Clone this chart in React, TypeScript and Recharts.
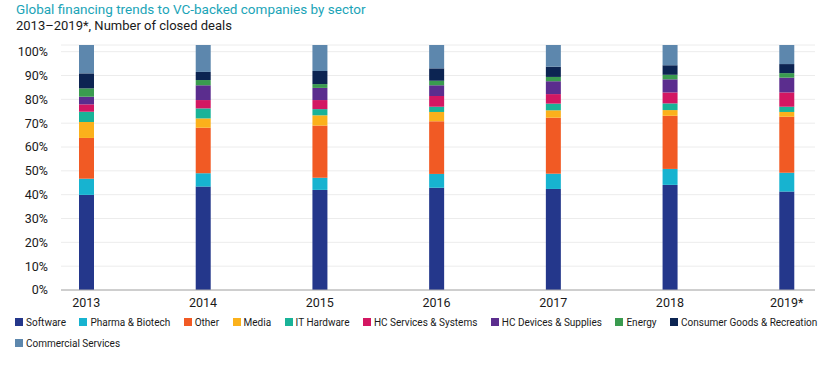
import React from "react";
import { BarChart, Bar, XAxis, YAxis, CartesianGrid } from "recharts";

// share of closed deals per sector, in %
const years = ["2013", "2014", "2015", "2016", "2017", "2018", "2019*"];
const software = [39.9, 43.4, 42.0, 42.9, 42.4, 44.1, 41.3];
const pharma = [6.8, 5.6, 5.1, 5.8, 6.4, 6.7, 7.9];
const other = [17.1, 19.1, 21.9, 22.1, 23.5, 22.3, 23.5];
const media = [6.7, 3.9, 4.3, 3.9, 3.1, 2.4, 2.0];
const itHardware = [4.3, 4.2, 2.6, 2.2, 2.8, 2.8, 2.2];
const hcServices = [3.1, 3.5, 3.8, 4.5, 4.0, 4.6, 6.0];
const hcDevices = [3.2, 6.2, 5.1, 4.5, 5.4, 5.5, 6.2];
const energy = [3.5, 2.2, 1.6, 1.9, 1.8, 1.9, 1.9];
const consumer = [6.3, 3.4, 5.5, 5.2, 4.3, 4.0, 3.8];
const commercial = [11.9, 11.3, 10.9, 9.8, 9.1, 8.5, 8.0];
const yTicks = [0, 10, 20, 30, 40, 50, 60, 70, 80, 90, 100];

const series = [
    { key: "software", name: "Software", color: "#24378b", values: software },
    { key: "pharma", name: "Pharma & Biotech", color: "#17b3d0", values: pharma },
    { key: "other", name: "Other", color: "#f15a24", values: other },
    { key: "media", name: "Media", color: "#fbb11b", values: media },
    { key: "itHardware", name: "IT Hardware", color: "#19b398", values: itHardware },
    { key: "hcServices", name: "HC Services & Systems", color: "#d31762", values: hcServices },
    { key: "hcDevices", name: "HC Devices & Supplies", color: "#5b2d8e", values: hcDevices },
    { key: "energy", name: "Energy", color: "#3a9b4f", values: energy },
    { key: "consumer", name: "Consumer Goods & Recreation", color: "#0c2452", values: consumer },
    { key: "commercial", name: "Commercial Services", color: "#5d87ad", values: commercial },
];

const data = years.map((year, i) => {
    const row: Record<string, string | number> = { year };
    series.forEach((s) => {
        row[s.key] = s.values[i];
    });
    return row;
});

const LegendItem = ({ name, color }: { name: string; color: string }) => (
    <div style={{ display: "flex", alignItems: "center", marginRight: 13.5 }}>
        <span
            style={{
                width: 8,
                height: 8,
                background: color,
                display: "inline-block",
                marginRight: 3,
            }}
        />
        <span>{name}</span>
    </div>
);

const App = () => {
    const firstRow = series.slice(0, 9);
    const secondRow = series.slice(9);
    return (
        <div
            style={{
                position: "absolute",
                left: 0,
                top: 0,
                width: 830,
                height: 366,
                background: "#fff",
                fontFamily: "Roboto, sans-serif",
                color: "#1a1a1a",
            }}
        >
            <div
                style={{
                    position: "absolute",
                    left: 16,
                    top: 1,
                    fontSize: 13.5,
                    color: "#1ba4b7",
                    whiteSpace: "nowrap",
                }}
            >
                Global financing trends to VC-backed companies by sector
            </div>
            <div
                style={{
                    position: "absolute",
                    left: 16,
                    top: 18,
                    fontSize: 13,
                    color: "#1a1a1a",
                    whiteSpace: "nowrap",
                }}
            >
                2013–2019*, Number of closed deals
            </div>
            <div style={{ position: "absolute", left: 0, top: 0 }}>
                <BarChart
                    width={830}
                    height={366}
                    data={data}
                    margin={{ top: 45, right: 15, left: 0, bottom: 46 }}
                >
                    <CartesianGrid vertical={false} stroke="#ececec" />
                    <XAxis
                        dataKey="year"
                        tickLine={false}
                        axisLine={{ stroke: "#a8a8a8" }}
                        padding={{ left: -33, right: -30 }}
                        tick={{ fontSize: 12.5, fill: "#1a1a1a" }}
                        height={30}
                        interval={0}
                    />
                    <YAxis
                        width={61}
                        domain={[0, 102.8]}
                        ticks={yTicks}
                        tickFormatter={(v) => `${v}%`}
                        tickLine={false}
                        axisLine={false}
                        tickMargin={7}
                        tick={{ fontSize: 12.5, fill: "#1a1a1a" }}
                    />
                    {series.map((s) => (
                        <Bar
                            key={s.key}
                            dataKey={s.key}
                            name={s.name}
                            stackId="a"
                            fill={s.color}
                            barSize={15}
                            isAnimationActive={false}
                        />
                    ))}
                </BarChart>
            </div>
            <div
                style={{
                    position: "absolute",
                    left: 15,
                    top: 315,
                    fontSize: 10,
                    color: "#1a1a1a",
                }}
            >
                <div style={{ display: "flex", height: 14, whiteSpace: "nowrap" }}>
                    {firstRow.map((s) => (
                        <LegendItem key={s.key} name={s.name} color={s.color} />
                    ))}
                </div>
                <div style={{ display: "flex", height: 14, marginTop: 7 }}>
                    {secondRow.map((s) => (
                        <LegendItem key={s.key} name={s.name} color={s.color} />
                    ))}
                </div>
            </div>
        </div>
    );
};

export default App;
